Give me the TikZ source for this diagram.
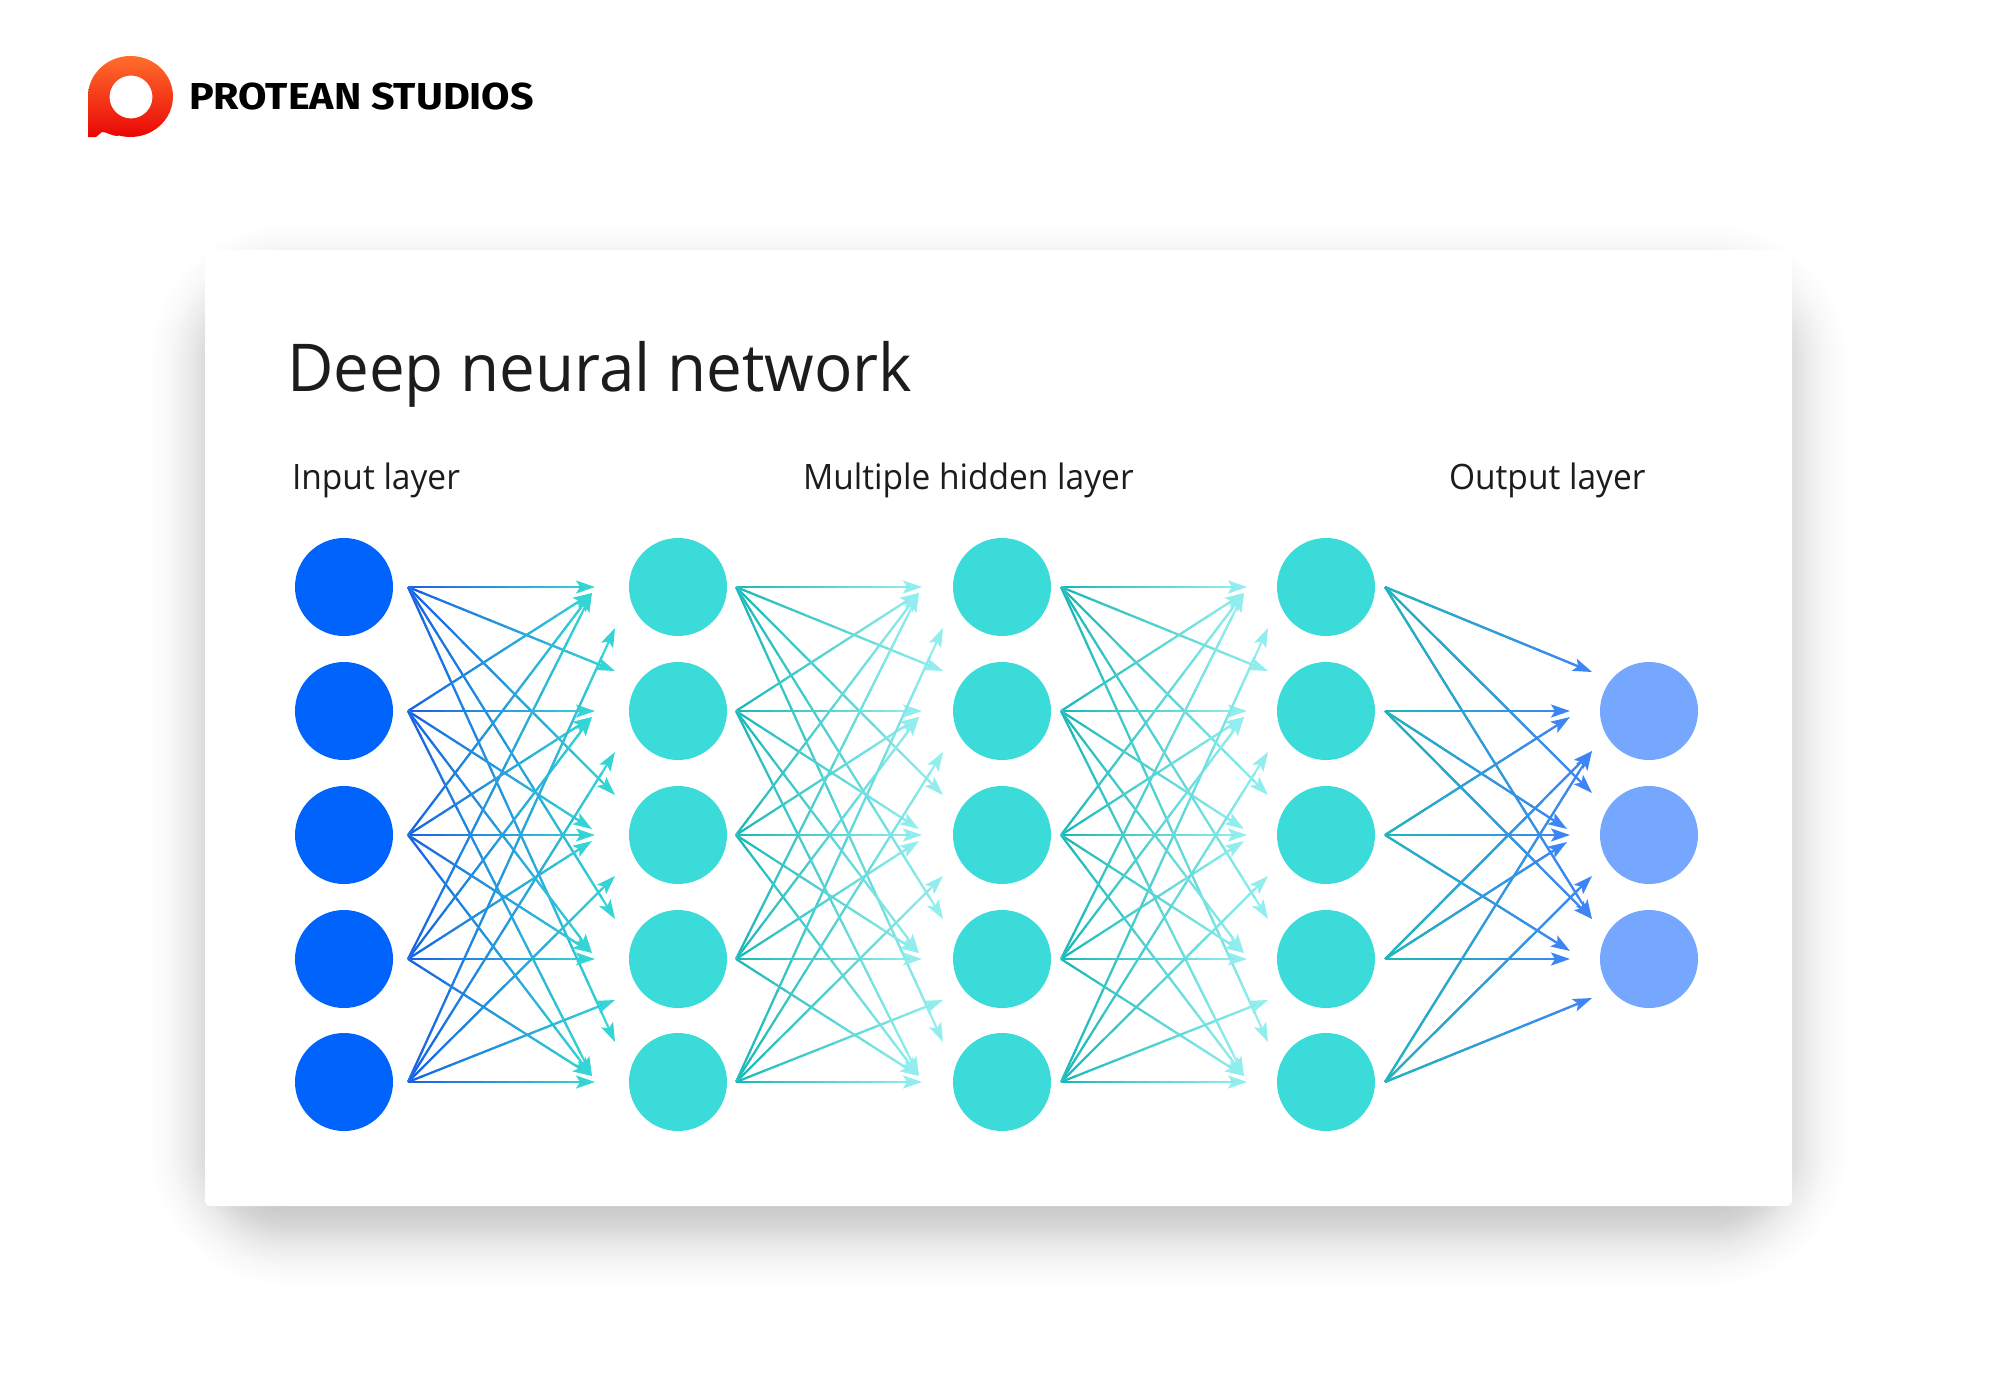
\documentclass[tikz,border=0pt]{standalone}
\usepackage{fontspec}
\setmainfont{Open Sans}
\newfontfamily\logofont{Fira Sans Bold}
\usetikzlibrary{arrows.meta,calc}
\definecolor{inputblue}{HTML}{0064FC}
\definecolor{hiddencyan}{HTML}{3BDBD9}
\definecolor{outputblue}{HTML}{76A7FF}
\definecolor{inkc}{HTML}{1C1C1C}
\definecolor{lineblue}{HTML}{1F5FE6}
\definecolor{linecyan}{HTML}{35D5D5}
\definecolor{lineteal}{HTML}{1DB8B8}
\definecolor{linepale}{HTML}{92EEEE}
\definecolor{linetip}{HTML}{3D85F5}
\definecolor{logotop}{HTML}{FF6E2C}
\definecolor{logobottom}{HTML}{E80505}
\tikzset{
  neuron/.style={circle,minimum size=98pt,inner sep=0pt,outer sep=0pt},
  conn/.style={line width=2.1pt,-{Stealth[length=19pt,width=13pt,inset=4pt]}},
  connpart/.style={line width=2.1pt,line cap=butt},
  lbl/.style={anchor=base west,inner sep=0pt,outer sep=0pt,text=inkc},
  headfont/.style={font=\fontsize{35}{40}\selectfont\addfontfeature{FakeStretch=0.957}},
}
% one connector: #3 start colour, #4 end colour (used under for the tip)
\newcommand\gline[4]{%
  \draw[conn,draw=#4] (#1) -- (#2);
  \foreach \k in {0,...,13}{%
    \pgfmathsetmacro\ta{\k*0.0667}%
    \pgfmathsetmacro\tb{(\k+1)*0.0667+0.004}%
    \pgfmathtruncatemacro\pc{100-\k*7.14}%
    \draw[connpart,draw=#3!\pc!#4] ($(#1)!\ta!(#2)$) -- ($(#1)!\tb!(#2)$);
  }%
}
% coordinates of one fully connected five-to-five fan
\newcommand\makefan[4]{%
  \foreach \i/\ya in {1/587,2/711,3/835,4/959,5/1082}{%
    \coordinate (#1-s\i) at (#2,\ya);
    \foreach \j/\yt in {1/587,2/711,3/835,4/959,5/1082}{%
      \pgfmathsetmacro\tx{\i==\j ? #3 : ((\i==1 || \i==5) ? #4 : #3-3)}%
      \pgfmathsetmacro\ty{\i==\j ? \yt : (\i==1 ? \yt-40 : (\i==5 ? \yt+41 : (\j<\i ? \yt+6 : \yt-6)))}%
      \coordinate (#1-t\i-\j) at (\tx,\ty);
    }%
  }%
}
\newcommand\drawfan[3]{%
  \foreach \i in {1,...,5}{\foreach \j in {1,...,5}{\gline{#1-s\i}{#1-t\i-\j}{#2}{#3}}}%
}
\begin{document}
\begin{tikzpicture}[x=1pt,y=-1pt]
\useasboundingbox (0,0) rectangle (2000,1400);
\fill[white] (0,0) rectangle (2000,1400);
% card shadow
\foreach \e in {-84,-81,...,84}{%
  \pgfmathsetmacro\rr{max(\e+87,1)}%
  \pgfmathsetmacro\op{0.0105*exp(-(\e/40)*(\e/40))}%
  \fill[black,opacity=\op,rounded corners=\rr pt] (201-\e,275-\e) rectangle (1796+\e,1235+\e);
}
\fill[white,rounded corners=5pt] (205,250) rectangle (1792,1206);
% logo
\shade[top color=logotop,bottom color=logobottom,even odd rule]
  (88,137) -- (88,96.5) arc[start angle=180,end angle=-105,x radius=42.5pt,y radius=40.5pt]
  .. controls (112,137) and (108,132) .. (102,132) -- (96,137) -- cycle
  (131,97) circle[radius=21.5pt];
\node[lbl,text=black,font=\logofont\fontsize{37.5}{40}\selectfont\addfontfeature{FakeStretch=1.1}] (brand) at (189,109) {PROTEAN STUDIOS};
% headings
\node[lbl,font=\fontsize{66}{70}\selectfont\addfontfeature{FakeStretch=0.965}] (title) at (287,391) {Deep neural network};
\node[lbl,headfont] (linput) at (292,489) {Input layer};
\node[lbl,headfont] (lhidden) at (803,489) {Multiple hidden layer};
\node[lbl,headfont] (loutput) at (1449,489) {Output layer};
% neurons
\foreach \i/\y in {1/587,2/711,3/835,4/959,5/1082}{%
  \node[neuron,fill=inputblue] (a\i) at (344,\y) {};
  \node[neuron,fill=hiddencyan] (b\i) at (678,\y) {};
  \node[neuron,fill=hiddencyan] (c\i) at (1002,\y) {};
  \node[neuron,fill=hiddencyan] (d\i) at (1326,\y) {};
}
\foreach \i/\y in {1/711,2/835,3/959}{\node[neuron,fill=outputblue] (e\i) at (1649,\y) {};}
% connector end points
\makefan{A}{408}{595}{615}
\makefan{B}{736}{922}{943}
\makefan{C}{1061}{1247}{1268}
\foreach \i/\ya in {1/587,2/711,3/835,4/959,5/1082}{\coordinate (D-s\i) at (1385,\ya);}
\foreach \i/\j/\tx/\ty in {1/1/1592/672,1/2/1592/793,1/3/1592/919,
  2/1/1570/711,2/2/1567/829,2/3/1592/919,
  3/1/1570/717,3/2/1570/835,3/3/1570/951,
  4/1/1592/751,4/2/1567/842,4/3/1570/959,
  5/1/1592/751,5/2/1592/876,5/3/1592/998}{\coordinate (D-t\i-\j) at (\tx,\ty);}
% connectors
\drawfan{A}{lineblue}{linecyan}
\drawfan{B}{lineteal}{linepale}
\drawfan{C}{lineteal}{linepale}
\foreach \i/\j in {1/1,1/2,1/3,2/1,2/2,2/3,3/1,3/2,3/3,4/1,4/2,4/3,5/1,5/2,5/3}{\gline{D-s\i}{D-t\i-\j}{lineteal}{linetip}}
\end{tikzpicture}
\end{document}
